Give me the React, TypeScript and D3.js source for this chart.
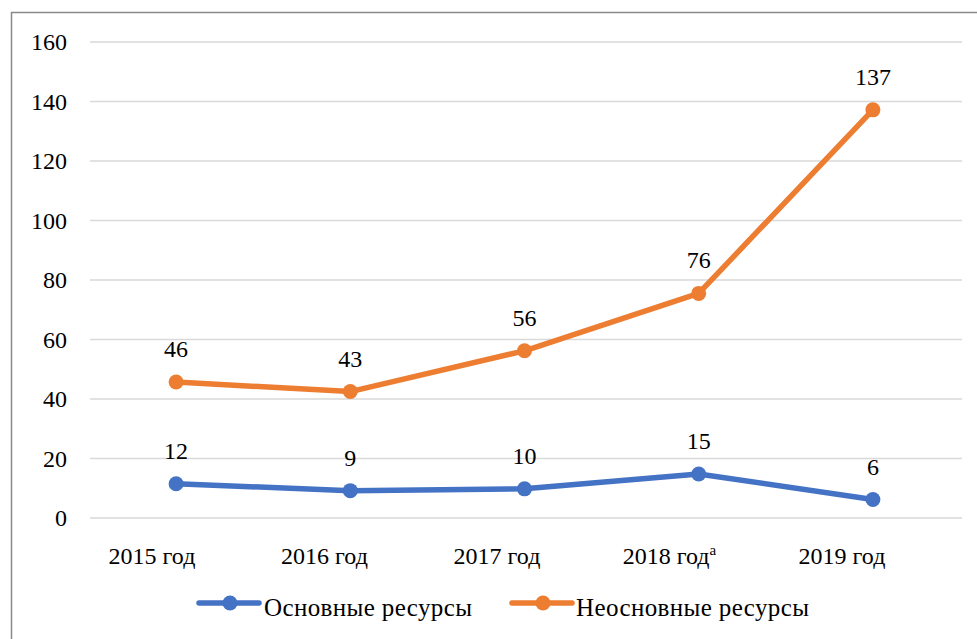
import React, { useEffect, useRef } from "react";
import * as d3 from "d3";

const categories = ["2015 год", "2016 год", "2017 год", "2018 год", "2019 год"];
const superscripts = ["", "", "", "а", ""];
const coreValues = [11.5, 9.2, 9.8, 14.8, 6.2];
const coreLabels = ["12", "9", "10", "15", "6"];
const nonCoreValues = [45.7, 42.5, 56.2, 75.5, 137.2];
const nonCoreLabels = ["46", "43", "56", "76", "137"];
const yTicks = [0, 20, 40, 60, 80, 100, 120, 140, 160];
const seriesNames = ["Основные ресурсы", "Неосновные ресурсы"];
const colors = ["#4472C4", "#ED7D31"];

const W = 977;
const H = 639;
const FONT = "Liberation Serif";

export default function App() {
  const ref = useRef<SVGSVGElement>(null);

  useEffect(() => {
    if (!ref.current) return;
    d3.select(ref.current)
      .selectAll<SVGTextElement, unknown>("text, tspan")
      .style("font-family", FONT, "important");
  });

  const x = d3.scaleBand<string>().domain(categories).range([89, 960]);
  const xLabel = d3.scalePoint<string>().domain(categories).range([152, 842]);
  const y = d3.scaleLinear().domain([0, 160]).range([518, 42]);
  const cx = (c: string) => (x(c) as number) + x.bandwidth() / 2;
  const line = d3
    .line<number>()
    .x((_, i) => cx(categories[i]))
    .y((d) => y(d));

  const series = [
    { values: coreValues, labels: coreLabels, color: colors[0] },
    { values: nonCoreValues, labels: nonCoreLabels, color: colors[1] },
  ];

  const legendItems = [
    { x0: 199, tx: 264, tw: 208, name: seriesNames[0], color: colors[0] },
    { x0: 512, tx: 576, tw: 233, name: seriesNames[1], color: colors[1] },
  ];

  const ts: React.CSSProperties = { fontFamily: FONT };

  return (
    <svg
      ref={ref}
      id="chart"
      width={W}
      height={H}
      style={{ position: "absolute", left: 0, top: 0, background: "#fff" }}
    >
      <style>{`#chart text, #chart tspan { font-family: "Liberation Serif" !important; }`}</style>
      <rect x={11.5} y={12.5} width={990} height={660} fill="#fff" stroke="#898989" strokeWidth={1.5} />
      {yTicks.map((t) => (
        <g key={t}>
          <line x1={90} x2={962} y1={y(t)} y2={y(t)} stroke="#d9d9d9" strokeWidth={1.5} />
          <text x={67} y={y(t) + 8} textAnchor="end" fontSize={24} fill="#000" style={ts}>
            {t}
          </text>
        </g>
      ))}
      {categories.map((c, i) => (
        <text key={c} x={xLabel(c)} y={564} textAnchor="middle" fontSize={24} fill="#000" style={ts}>
          {c}
          {superscripts[i] && (
            <tspan fontSize={15} dy={-9}>
              {superscripts[i]}
            </tspan>
          )}
        </text>
      ))}
      {series.map((s, si) => (
        <g key={si}>
          <path d={line(s.values) as string} fill="none" stroke={s.color} strokeWidth={5.5} strokeLinejoin="round" />
          {s.values.map((v, i) => (
            <circle key={i} cx={cx(categories[i])} cy={y(v)} r={7.5} fill={s.color} />
          ))}
          {s.values.map((v, i) => (
            <text key={"l" + i} x={cx(categories[i])} y={y(v) - 25} textAnchor="middle" fontSize={24} fill="#000" style={ts}>
              {s.labels[i]}
            </text>
          ))}
        </g>
      ))}
      {legendItems.map((l) => (
        <g key={l.name}>
          <line x1={l.x0} x2={l.x0 + 60} y1={603} y2={603} stroke={l.color} strokeWidth={5.5} strokeLinecap="round" />
          <circle cx={l.x0 + 31} cy={603} r={7.5} fill={l.color} />
          <text x={l.tx} y={616} fontSize={25} fill="#000" textLength={l.tw} lengthAdjust="spacing" style={ts}>
            {l.name}
          </text>
        </g>
      ))}
    </svg>
  );
}
